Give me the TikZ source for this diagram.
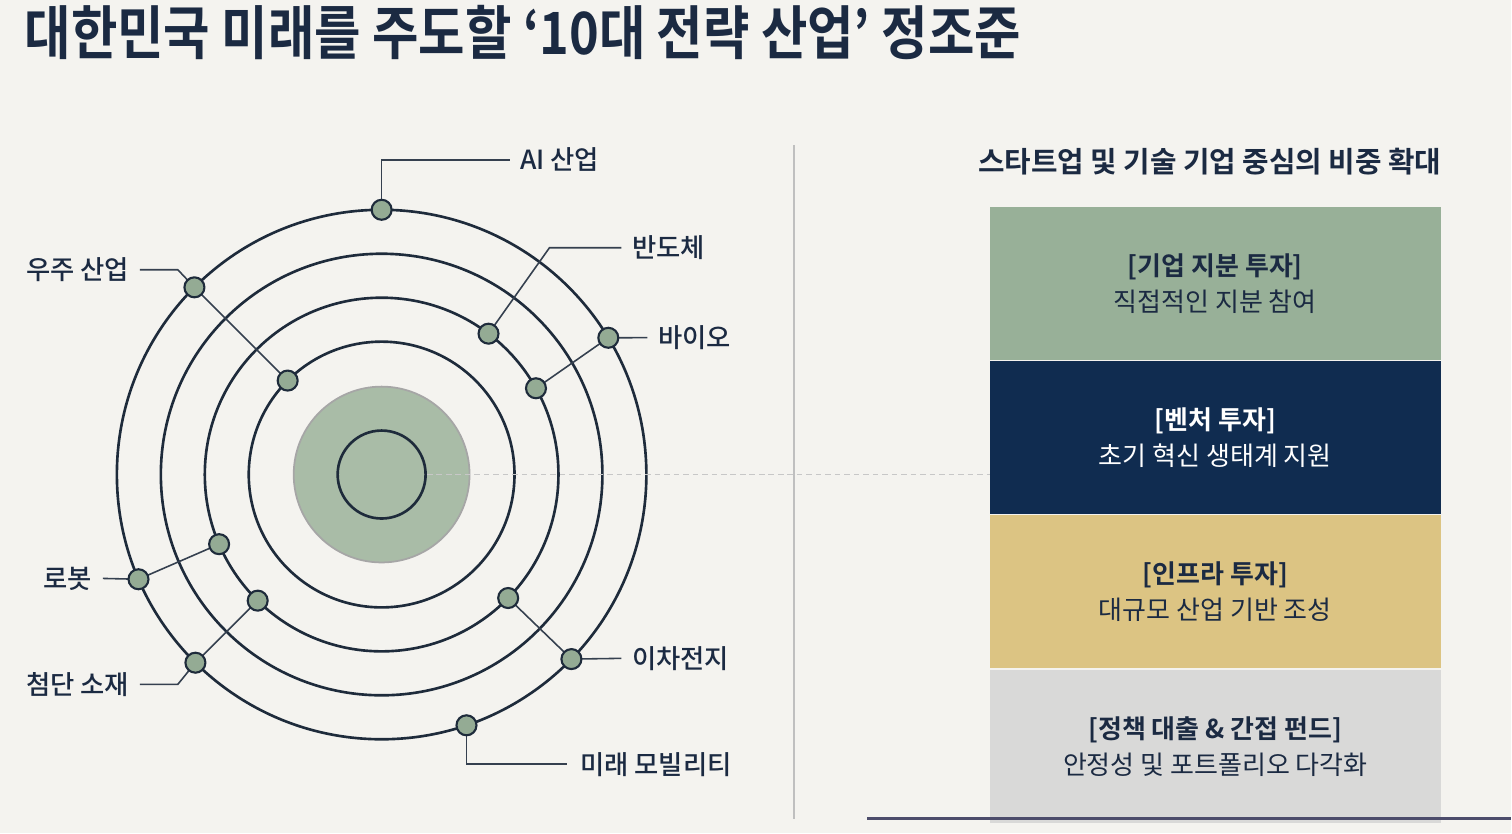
\documentclass[tikz,border=0pt]{standalone}
\usepackage{fontspec}
\setmainfont{Noto Sans CJK KR}[BoldFont={Noto Sans CJK KR Bold}]
\newfontfamily\titlefont[FakeStretch=0.865]{Noto Sans CJK KR Bold}
\newfontfamily\tagfont{Noto Sans CJK KR Medium}
\usetikzlibrary{positioning}

\definecolor{paper}{HTML}{F4F3EF}
\definecolor{ink}{HTML}{1B2A42}
\definecolor{orbit}{HTML}{1E2B3B}
\definecolor{pin}{HTML}{94AB94}
\definecolor{sage}{HTML}{98B098}
\definecolor{core}{HTML}{A9BCA7}
\definecolor{navy}{HTML}{102C50}
\definecolor{sand}{HTML}{DCC483}
\definecolor{mist}{HTML}{D9D9D8}

\tikzset{
  ring/.style={draw=orbit, line width=0.75pt},
  pindot/.style={circle, draw=orbit, fill=pin, line width=0.6pt, minimum size=0.2cm, inner sep=0pt},
  leader/.style={draw=orbit!90, line width=0.45pt},
  tag/.style={font=\tagfont\fontsize{7.5}{9}\selectfont, text=ink, inner sep=0pt},
  tier/.style={minimum width=4.51cm, minimum height=1.53cm, inner sep=0pt, align=center,
               font=\fontsize{7.4}{10.2}\selectfont, text=ink},
}

\begin{document}
\begin{tikzpicture}[x=0.01cm, y=-0.01cm]
  \fill[paper] (0,0) rectangle (1512,834);

  % title
  \node[anchor=west, inner sep=0pt, text=ink, font=\titlefont\fontsize{16.6}{18}\selectfont] (title) at (24,33)
    {대한민국 미래를 주도할 ‘10대 전략 산업’ 정조준};

  % orbits
  \coordinate (c) at (382,475);
  \fill[core, draw=black!35, line width=0.5pt] (c) circle (88);
  \node[circle, ring, minimum size=0.88cm, inner sep=0pt] (hub) at (c) {};
  \foreach \r in {133,177,221,265}
    \draw[ring] (c) circle (\r);

  \draw[black!22, line width=0.45pt, dash pattern=on 1.6pt off 1.1pt] (hub.east) -- (991,475);
  \draw[black!25, line width=0.55pt] (795,145) -- (795,820);

  % pins on the orbits
  \foreach \name/\ang/\rad in {ai/-90/265, spaceA/-135/133, spaceB/-135/265,
      semi/-52.8/177, bioA/-29.2/177, bioB/-31.1/265,
      robotA/156.8/177, robotB/156.7/265, matA/134.5/177, matB/134.7/265,
      cellA/44.3/177, cellB/44.2/265, mobil/71.3/265}
    \coordinate (\name) at ([shift={(\ang:\rad)}]c);

  \coordinate (aiEnd) at (510,160);
  \coordinate (spaceK) at (178,270);   \coordinate (spaceEnd) at (140,270);
  \coordinate (semiK) at (550,248);    \coordinate (semiEnd) at (622,248);
  \coordinate (bioEnd) at (648,338);
  \coordinate (robotEnd) at (103,579);
  \coordinate (matK) at (178,685);     \coordinate (matEnd) at (140,685);
  \coordinate (cellEnd) at (622,659);
  \coordinate (mobilEnd) at (568,765);

  \draw[leader] (ai) |- (aiEnd);
  \draw[leader] (spaceA) -- (spaceB) -- (spaceK) -- (spaceEnd);
  \draw[leader] (semi) -- (semiK) -- (semiEnd);
  \draw[leader] (bioA) -- (bioB) -- (bioEnd);
  \draw[leader] (robotA) -- (robotB) -- (robotEnd);
  \draw[leader] (matA) -- (matB) -- (matK) -- (matEnd);
  \draw[leader] (cellA) -- (cellB) -- (cellEnd);
  \draw[leader] (mobil) |- (mobilEnd);

  \foreach \name in {ai,spaceA,spaceB,semi,bioA,bioB,robotA,robotB,matA,matB,cellA,cellB,mobil}
    \node[pindot] at (\name) {};

  \node[tag, right=0.1cm of aiEnd] {AI 산업};
  \node[tag, left=0.1cm of spaceEnd] {우주 산업};
  \node[tag, right=0.1cm of semiEnd] {반도체};
  \node[tag, right=0.1cm of bioEnd] {바이오};
  \node[tag, left=0.1cm of robotEnd] {로봇};
  \node[tag, left=0.1cm of matEnd] {첨단 소재};
  \node[tag, right=0.1cm of cellEnd] {이차전지};
  \node[tag, right=0.12cm of mobilEnd] {미래 모빌리티};

  % investment tiers
  \node[text=ink, font=\bfseries\fontsize{8.2}{9}\selectfont, inner sep=0pt] (head) at (1211,162)
    {스타트업 및 기술 기업 중심의 비중 확대};
  \node[tier, fill=sage] (stake) at (1216.5,283.5)
    {\textbf{[기업 지분 투자]}\\직접적인 지분 참여};
  \node[tier, fill=navy, text=white, below=0pt of stake] (venture)
    {\textbf{[벤처 투자]}\\초기 혁신 생태계 지원};
  \node[tier, fill=sand, below=0pt of venture] (infra)
    {\textbf{[인프라 투자]}\\대규모 산업 기반 조성};
  \node[tier, fill=mist, below=0pt of infra] (loan)
    {\textbf{[정책 대출 \& 간접 펀드]}\\안정성 및 포트폴리오 다각화};

  \draw[black!70!blue!40!gray, line width=0.85pt] (868,819) -- (1512,819);
\end{tikzpicture}
\end{document}
